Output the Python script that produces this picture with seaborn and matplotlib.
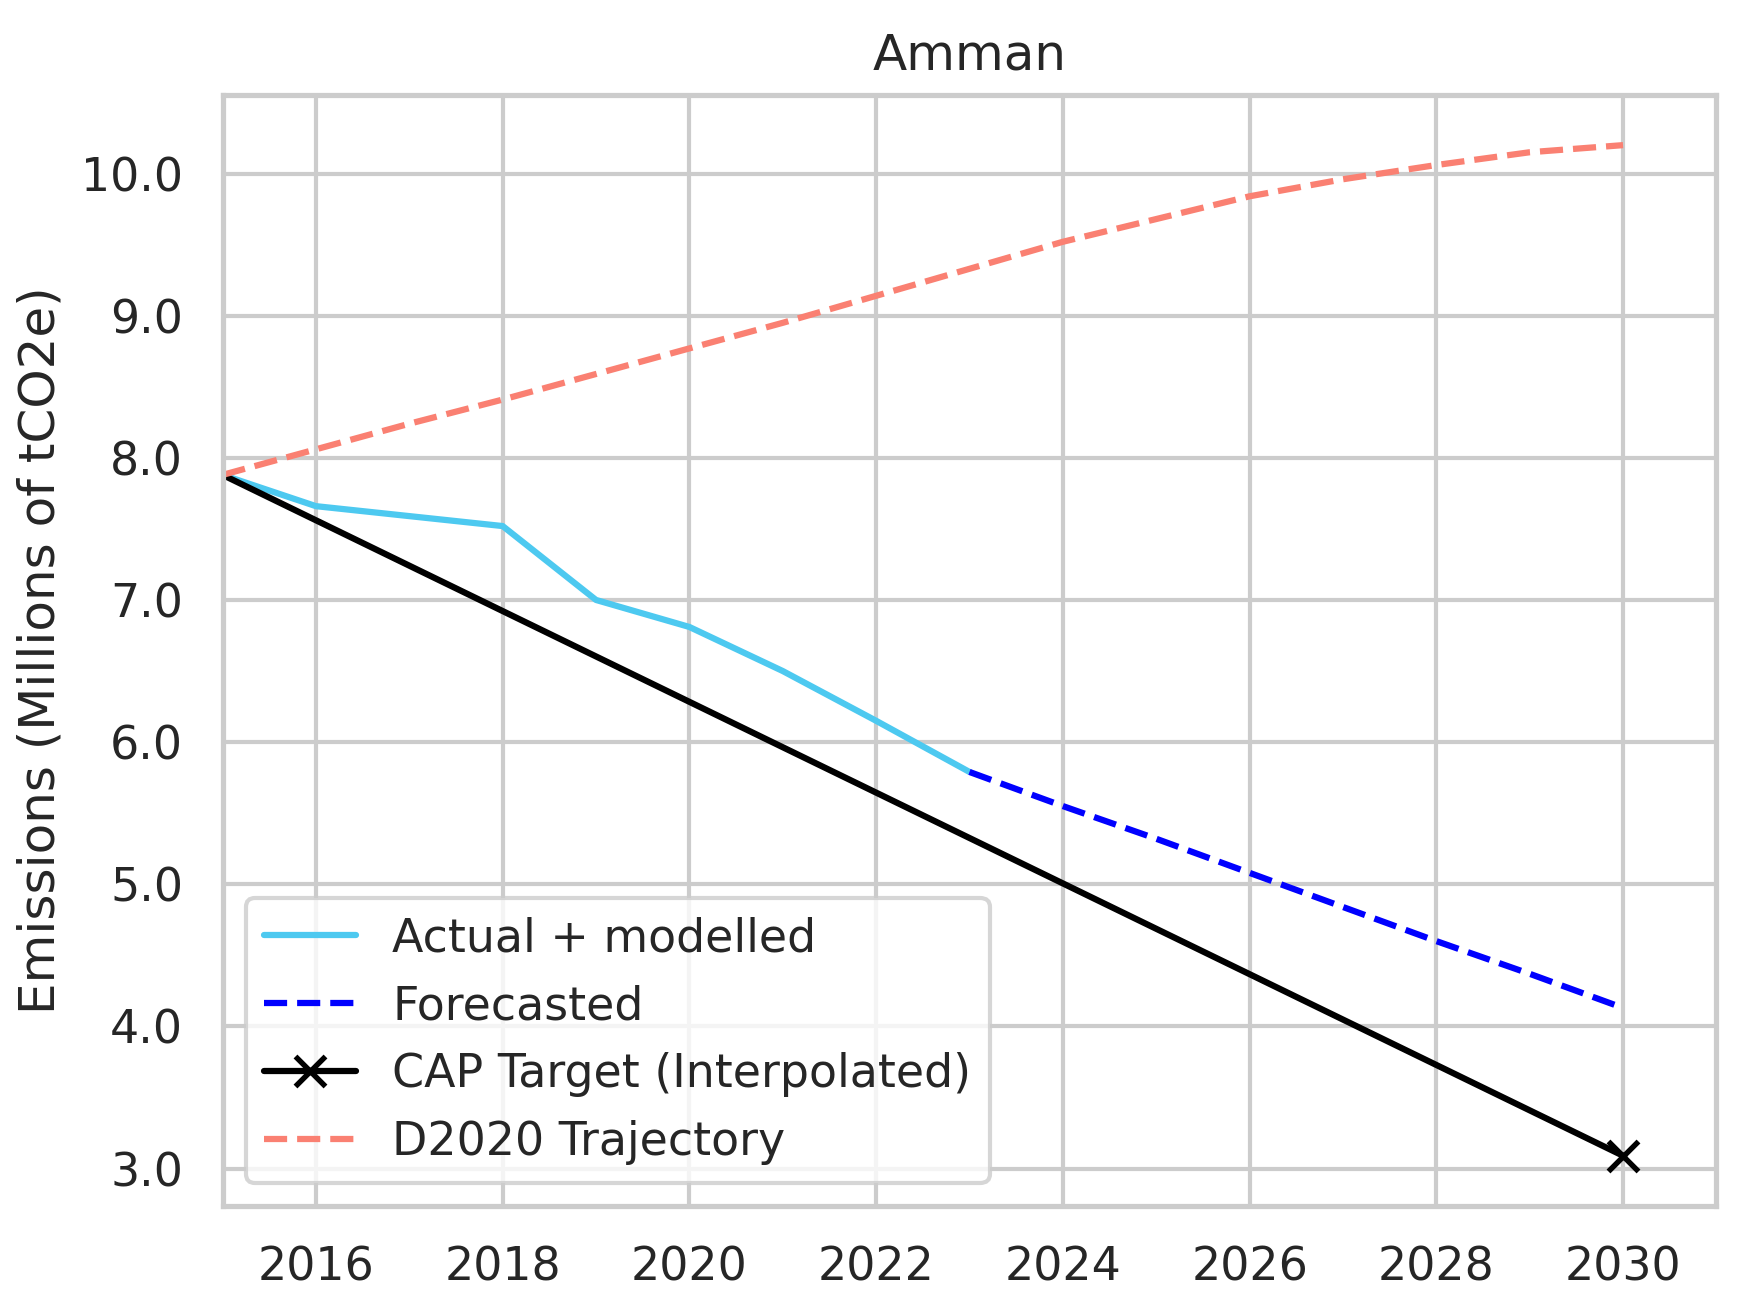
import seaborn as sns
import matplotlib.pyplot as plt
import pandas as pd

# anos e valores (milhões de tCO2e)
anos_reais = [2015, 2016, 2017, 2018, 2019, 2020, 2021, 2022, 2023]
emissoes_reais = [7.88, 7.66, 7.59, 7.52, 7.00, 6.81, 6.50, 6.15, 5.79]

anos_previsao = [2023, 2024, 2025, 2026, 2027, 2028, 2029, 2030]
emissoes_previsao = [5.79, 5.55, 5.32, 5.08, 4.84, 4.60, 4.37, 4.13]

anos_meta = [2015, 2030]
emissoes_meta = [7.88, 3.09]

anos_d2020 = [2015, 2016, 2017, 2018, 2019, 2020, 2021, 2022, 2023,
              2024, 2025, 2026, 2027, 2028, 2029, 2030]
emissoes_d2020 = [7.88, 8.06, 8.24, 8.41, 8.59, 8.77, 8.95, 9.14, 9.33,
                  9.52, 9.68, 9.84, 9.96, 10.06, 10.15, 10.20]

sns.set_theme(style='whitegrid', context='notebook')
plt.rcParams['font.family'] = ['DejaVu Sans']

fig, ax = plt.subplots(figsize=(1739 / 300, 1314 / 300), dpi=300)
fig.subplots_adjust(left=0.128, right=0.987, top=0.928, bottom=0.082)

reais = pd.DataFrame({'ano': anos_reais, 'emissoes': emissoes_reais})
previsao = pd.DataFrame({'ano': anos_previsao, 'emissoes': emissoes_previsao})
meta = pd.DataFrame({'ano': anos_meta, 'emissoes': emissoes_meta})
d2020 = pd.DataFrame({'ano': anos_d2020, 'emissoes': emissoes_d2020})

sns.lineplot(data=reais, x='ano', y='emissoes', color='#4DC9F0',
             linewidth=1.5, label='Actual + modelled', ax=ax)
sns.lineplot(data=previsao, x='ano', y='emissoes', color='blue',
             linewidth=1.5, linestyle='--', label='Forecasted', ax=ax)
sns.lineplot(data=meta, x='ano', y='emissoes', color='black',
             linewidth=1.5, marker='x', markevery=[1], markersize=7,
             markeredgewidth=1.3, markeredgecolor='black',
             label='CAP Target (Interpolated)', ax=ax)
sns.lineplot(data=d2020, x='ano', y='emissoes', color='salmon',
             linewidth=1.5, linestyle='--', label='D2020 Trajectory', ax=ax)

ax.set_xlim(2015, 2031)
ax.set_xticks([2016, 2018, 2020, 2022, 2024, 2026, 2028, 2030])
ax.set_yticks([3, 4, 5, 6, 7, 8, 9, 10])
ax.set_yticklabels([f'{v:.1f}' for v in [3, 4, 5, 6, 7, 8, 9, 10]])
ax.set_xlabel('')
ax.set_ylabel('Emissions (Millions of tCO2e)', fontsize=12)
ax.set_title('Amman', fontsize=12)
ax.tick_params(labelsize=11)
ax.legend(loc='lower left', fontsize=11)

plt.savefig('out.png', dpi=300)
